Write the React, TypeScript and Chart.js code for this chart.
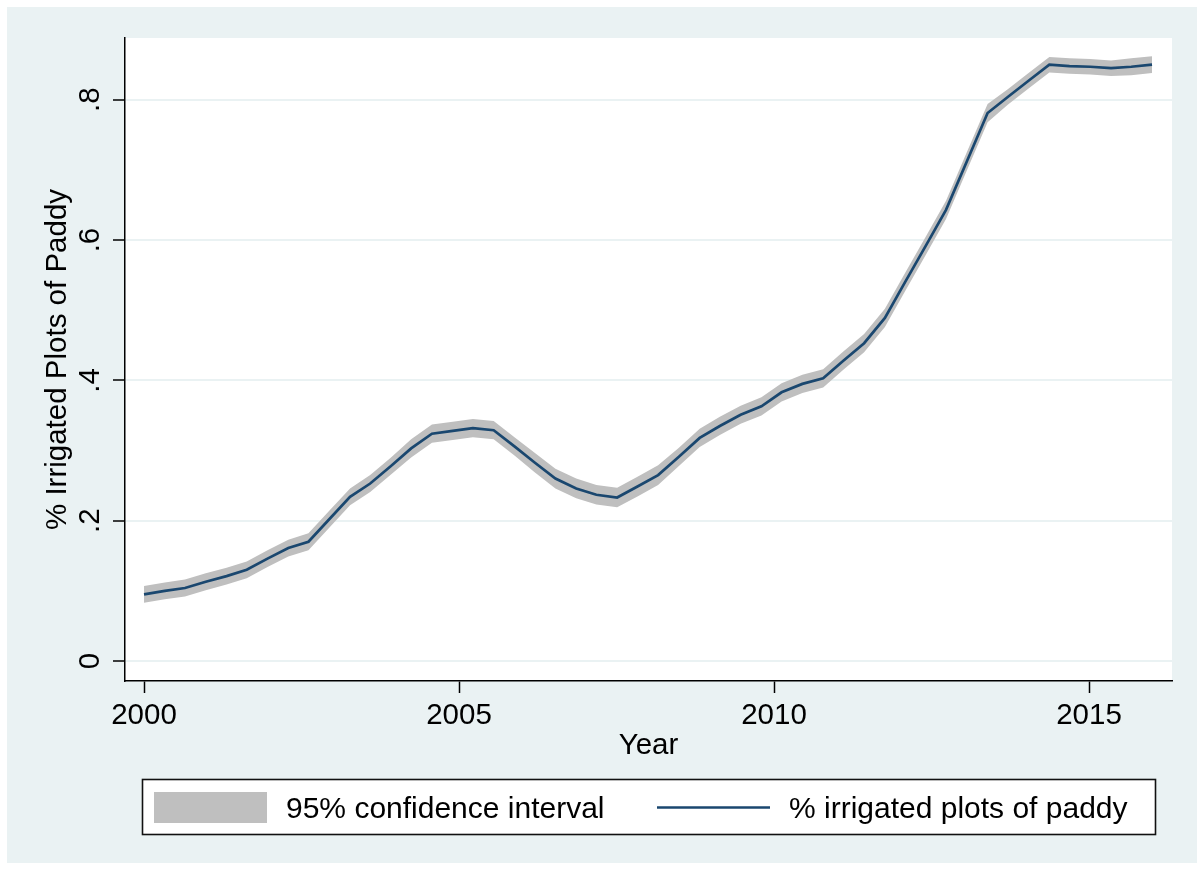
import { useEffect, useRef } from "react";
import { Chart, registerables } from "chart.js";

Chart.register(...registerables);

// Survey rounds (decimal years) and the estimated share of irrigated paddy plots
const years = [
  2000.0, 2000.33, 2000.65, 2000.98, 2001.31, 2001.63, 2001.96, 2002.29, 2002.61, 2002.94,
  2003.27, 2003.59, 2003.92, 2004.24, 2004.57, 2004.9, 2005.22, 2005.55, 2005.88, 2006.2,
  2006.53, 2006.86, 2007.18, 2007.51, 2007.84, 2008.16, 2008.49, 2008.82, 2009.14, 2009.47,
  2009.8, 2010.12, 2010.45, 2010.78, 2011.1, 2011.43, 2011.76, 2012.08, 2012.41, 2012.73,
  2013.06, 2013.39, 2013.71, 2014.04, 2014.37, 2014.69, 2015.02, 2015.35, 2015.67, 2016.0,
];

const irrigatedShare = [
  0.095, 0.1, 0.104, 0.113, 0.121, 0.13, 0.146, 0.161, 0.17, 0.202,
  0.234, 0.253, 0.278, 0.303, 0.324, 0.328, 0.332, 0.329, 0.306, 0.283,
  0.26, 0.246, 0.237, 0.233, 0.249, 0.265, 0.291, 0.318, 0.335, 0.351,
  0.363, 0.383, 0.395, 0.403, 0.428, 0.453, 0.489, 0.54, 0.592, 0.643,
  0.712, 0.781, 0.804, 0.827, 0.85, 0.848, 0.847, 0.845, 0.847, 0.85,
];

const ciLower = [
  0.083, 0.088, 0.092, 0.101, 0.109, 0.118, 0.134, 0.149, 0.158, 0.19,
  0.222, 0.241, 0.266, 0.29, 0.311, 0.315, 0.319, 0.316, 0.293, 0.269,
  0.246, 0.232, 0.223, 0.219, 0.235, 0.251, 0.278, 0.305, 0.322, 0.338,
  0.35, 0.37, 0.382, 0.39, 0.415, 0.44, 0.476, 0.527, 0.579, 0.63,
  0.699, 0.768, 0.793, 0.816, 0.839, 0.837, 0.836, 0.834, 0.835, 0.838,
];

const ciUpper = [
  0.107, 0.112, 0.116, 0.125, 0.133, 0.142, 0.158, 0.173, 0.182, 0.214,
  0.246, 0.265, 0.29, 0.316, 0.337, 0.341, 0.345, 0.342, 0.319, 0.297,
  0.274, 0.26, 0.251, 0.247, 0.263, 0.279, 0.304, 0.331, 0.348, 0.364,
  0.376, 0.396, 0.408, 0.416, 0.441, 0.466, 0.502, 0.553, 0.605, 0.656,
  0.725, 0.794, 0.815, 0.838, 0.861, 0.859, 0.858, 0.856, 0.859, 0.862,
];

const xTicks = [2000, 2005, 2010, 2015];
const yTicks = [0, 0.2, 0.4, 0.6, 0.8];

const seriesLabel = "% irrigated plots of paddy";
const bandLabel = "95% confidence interval";

const FONT_FAMILY = '"Liberation Sans", Arial, Helvetica, sans-serif';
const FONT_SIZE = 29.5;
const LEGEND_FONT_SIZE = 30;
const REGION_BG = "#EAF2F3";
const GRID = "#EAF2F3";
const NAVY = "#1A476F";
const BAND = "#BFBFBF";

const fmtY = (v: number) => (v === 0 ? "0" : "." + Math.round(v * 10));

const toPoints = (vals: number[]) => years.map((x, i) => ({ x, y: vals[i] }));

// Fills the graph region and the white plot region behind everything
const backgroundPlugin = {
  id: "regionBackground",
  beforeDraw(chart: any) {
    const { ctx, chartArea, width, height } = chart;
    ctx.save();
    ctx.fillStyle = REGION_BG;
    ctx.fillRect(0, 0, width, height);
    ctx.fillStyle = "#ffffff";
    ctx.fillRect(chartArea.left, chartArea.top, chartArea.right - chartArea.left, chartArea.bottom - chartArea.top);
    ctx.restore();
  },
};

// Boxed two-column legend centred under the plot
const boxedLegendPlugin = {
  id: "boxedLegend",
  afterDraw(chart: any) {
    const { ctx, chartArea } = chart;
    const boxW = 1013;
    const boxH = 55;
    const cx = (chartArea.left + chartArea.right) / 2;
    const left = Math.round(cx - boxW / 2);
    const top = chartArea.bottom + 98;
    const band = chart.data.datasets.find((d: any) => d.label === bandLabel);
    const line = chart.data.datasets.find((d: any) => d.label === seriesLabel);

    ctx.save();
    ctx.fillStyle = "#ffffff";
    ctx.fillRect(left, top, boxW, boxH);
    ctx.strokeStyle = "#111111";
    ctx.lineWidth = 1.6;
    ctx.strokeRect(left + 0.5, top + 0.5, boxW, boxH);

    // area key
    ctx.fillStyle = band.backgroundColor;
    ctx.fillRect(left + 12, top + 13, 113, 31);

    // line key
    ctx.strokeStyle = line.borderColor;
    ctx.lineWidth = line.borderWidth;
    ctx.beginPath();
    ctx.moveTo(left + 515, top + 28.5);
    ctx.lineTo(left + 628, top + 28.5);
    ctx.stroke();

    ctx.fillStyle = "#000000";
    ctx.font = `${LEGEND_FONT_SIZE}px ${FONT_FAMILY}`;
    ctx.textBaseline = "alphabetic";
    ctx.textAlign = "left";
    ctx.fillText(band.label, left + 144, top + 39);
    ctx.fillText(line.label, left + 647, top + 39);
    ctx.restore();
  },
};

export default function App() {
  const canvasRef = useRef<HTMLCanvasElement | null>(null);

  useEffect(() => {
    document.body.style.margin = "0";
    const canvas = canvasRef.current;
    if (!canvas) return;

    const font = { family: FONT_FAMILY, size: FONT_SIZE };

    const chart = new Chart(canvas, {
      type: "line",
      data: {
        datasets: [
          {
            label: seriesLabel,
            data: toPoints(irrigatedShare),
            borderColor: NAVY,
            borderWidth: 2.7,
            pointRadius: 0,
            fill: false,
            tension: 0,
            order: 0,
          },
          {
            label: "ci-lower",
            data: toPoints(ciLower),
            borderWidth: 0,
            borderColor: "rgba(0,0,0,0)",
            backgroundColor: "rgba(0,0,0,0)",
            pointRadius: 0,
            fill: false,
            tension: 0,
            order: 2,
          },
          {
            label: bandLabel,
            data: toPoints(ciUpper),
            borderWidth: 0,
            borderColor: "rgba(0,0,0,0)",
            backgroundColor: BAND,
            pointRadius: 0,
            fill: "-1",
            tension: 0,
            order: 1,
          },
        ],
      },
      options: {
        animation: false,
        responsive: false,
        maintainAspectRatio: false,
        layout: { padding: { left: 0, top: 31, right: 25, bottom: 82 } },
        plugins: {
          legend: { display: false },
          tooltip: { enabled: false },
        },
        scales: {
          x: {
            type: "linear",
            min: 1999.698,
            max: 2016.317,
            afterBuildTicks: (s: any) => {
              s.ticks = xTicks.map((v) => ({ value: v }));
            },
            afterFit: (s: any) => {
              s.height = 100;
            },
            ticks: {
              autoSkip: false,
              maxRotation: 0,
              minRotation: 0,
              padding: 5,
              color: "#000000",
              font,
              callback: (v: any) => String(v),
            },
            grid: {
              drawOnChartArea: false,
              drawTicks: true,
              tickLength: 12,
              tickColor: "#000000",
              tickWidth: 1.5,
            },
            border: { color: "#000000", width: 1.5 },
            title: {
              display: true,
              text: "Year",
              color: "#000000",
              font,
              padding: { top: 0, bottom: 17.5 },
            },
          },
          y: {
            type: "linear",
            min: -0.0285,
            max: 0.888,
            afterBuildTicks: (s: any) => {
              s.ticks = yTicks.map((v) => ({ value: v }));
            },
            afterFit: (s: any) => {
              s.width = 118;
            },
            ticks: {
              autoSkip: false,
              minRotation: 90,
              maxRotation: 90,
              crossAlign: "center",
              padding: 10,
              color: "#000000",
              font,
              callback: (v: any) => fmtY(Number(v)),
            },
            grid: {
              color: GRID,
              lineWidth: 2,
              drawTicks: true,
              tickLength: 12,
              tickColor: "#000000",
              tickWidth: 1.5,
            },
            border: { color: "#000000", width: 1.5 },
            title: {
              display: true,
              text: "% Irrigated Plots of Paddy",
              color: "#000000",
              font,
              padding: { top: 33.6, bottom: 0 },
            },
          },
        },
      },
      plugins: [backgroundPlugin, boxedLegendPlugin],
    } as any);

    return () => chart.destroy();
  }, []);

  return (
    <div style={{ paddingLeft: 7, paddingTop: 7 }}>
      <canvas
        ref={canvasRef}
        width={1190}
        height={856}
        style={{ display: "block", width: 1190, height: 856 }}
      />
    </div>
  );
}
